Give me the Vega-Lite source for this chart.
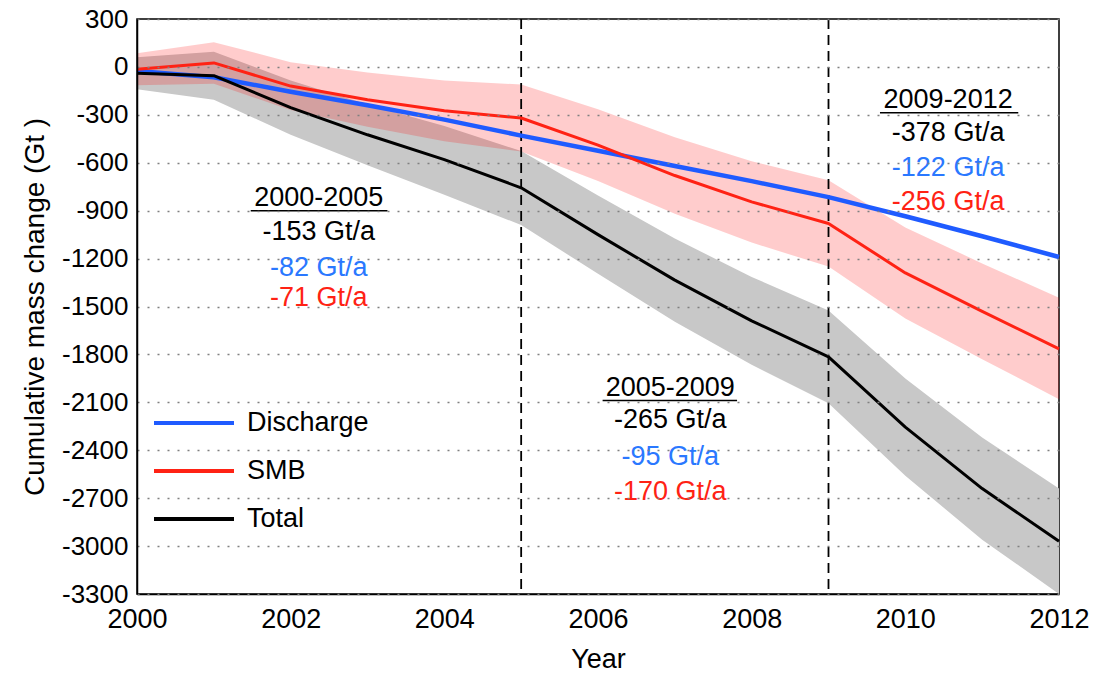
{
  "$schema": "https://vega.github.io/schema/vega-lite/v6.json",
  "width": 922,
  "height": 575,
  "autosize": {"type": "none"},
  "padding": {"left": 137, "top": 19, "right": 40, "bottom": 81},
  "background": "white",
  "config": {
    "font": "Liberation Sans",
    "view": {"stroke": "black", "strokeWidth": 1.5},
    "axis": {
      "labelFont": "Liberation Sans",
      "titleFont": "Liberation Sans",
      "labelColor": "black",
      "titleColor": "black",
      "titleFontWeight": "normal",
      "domainColor": "black",
      "tickColor": "black",
      "tickWidth": 1.2,
      "domainWidth": 1.5
    }
  },
  "datasets": {
    "series": [
      {"year": 2000, "series": "Discharge", "value": -25, "lo": -25, "hi": -25},
      {"year": 2001, "series": "Discharge", "value": -65, "lo": -65, "hi": -65},
      {"year": 2002, "series": "Discharge", "value": -155, "lo": -155, "hi": -155},
      {"year": 2003, "series": "Discharge", "value": -240, "lo": -240, "hi": -240},
      {"year": 2004, "series": "Discharge", "value": -330, "lo": -330, "hi": -330},
      {"year": 2005, "series": "Discharge", "value": -430, "lo": -430, "hi": -430},
      {"year": 2006, "series": "Discharge", "value": -525, "lo": -525, "hi": -525},
      {"year": 2007, "series": "Discharge", "value": -620, "lo": -620, "hi": -620},
      {"year": 2008, "series": "Discharge", "value": -715, "lo": -715, "hi": -715},
      {"year": 2009, "series": "Discharge", "value": -815, "lo": -815, "hi": -815},
      {"year": 2010, "series": "Discharge", "value": -935, "lo": -935, "hi": -935},
      {"year": 2011, "series": "Discharge", "value": -1060, "lo": -1060, "hi": -1060},
      {"year": 2012, "series": "Discharge", "value": -1190, "lo": -1190, "hi": -1190},
      {"year": 2000, "series": "SMB", "value": -15, "lo": -115, "hi": 85},
      {"year": 2001, "series": "SMB", "value": 25, "lo": -105, "hi": 155},
      {"year": 2002, "series": "SMB", "value": -120, "lo": -270, "hi": 30},
      {"year": 2003, "series": "SMB", "value": -205, "lo": -375, "hi": -35},
      {"year": 2004, "series": "SMB", "value": -275, "lo": -465, "hi": -85},
      {"year": 2005, "series": "SMB", "value": -320, "lo": -530, "hi": -110},
      {"year": 2006, "series": "SMB", "value": -490, "lo": -715, "hi": -265},
      {"year": 2007, "series": "SMB", "value": -680, "lo": -920, "hi": -440},
      {"year": 2008, "series": "SMB", "value": -845, "lo": -1100, "hi": -590},
      {"year": 2009, "series": "SMB", "value": -980, "lo": -1250, "hi": -710},
      {"year": 2010, "series": "SMB", "value": -1290, "lo": -1575, "hi": -1005},
      {"year": 2011, "series": "SMB", "value": -1530, "lo": -1830, "hi": -1230},
      {"year": 2012, "series": "SMB", "value": -1765, "lo": -2080, "hi": -1445},
      {"year": 2000, "series": "Total", "value": -40, "lo": -140, "hi": 60},
      {"year": 2001, "series": "Total", "value": -55, "lo": -205, "hi": 95},
      {"year": 2002, "series": "Total", "value": -255, "lo": -425, "hi": -85},
      {"year": 2003, "series": "Total", "value": -425, "lo": -615, "hi": -235},
      {"year": 2004, "series": "Total", "value": -580, "lo": -800, "hi": -370},
      {"year": 2005, "series": "Total", "value": -757, "lo": -990, "hi": -527},
      {"year": 2006, "series": "Total", "value": -1050, "lo": -1295, "hi": -805},
      {"year": 2007, "series": "Total", "value": -1335, "lo": -1595, "hi": -1075},
      {"year": 2008, "series": "Total", "value": -1590, "lo": -1865, "hi": -1315},
      {"year": 2009, "series": "Total", "value": -1815, "lo": -2105, "hi": -1525},
      {"year": 2010, "series": "Total", "value": -2255, "lo": -2560, "hi": -1950},
      {"year": 2011, "series": "Total", "value": -2640, "lo": -2960, "hi": -2320},
      {"year": 2012, "series": "Total", "value": -2970, "lo": -3300, "hi": -2640}
    ],
    "periods": [{"year": 2005}, {"year": 2009}],
    "notes": [
      {"year": 2002.365, "value": -819, "series": "Total", "label": "2000-2005"},
      {"year": 2002.365, "value": -1031, "series": "Total", "label": "-153 Gt/a"},
      {"year": 2002.365, "value": -1257, "series": "DischargeText", "label": "-82 Gt/a"},
      {"year": 2002.365, "value": -1444, "series": "SMB", "label": "-71 Gt/a"},
      {"year": 2006.94, "value": -2008, "series": "Total", "label": "2005-2009"},
      {"year": 2006.94, "value": -2208, "series": "Total", "label": "-265 Gt/a"},
      {"year": 2006.94, "value": -2440, "series": "DischargeText", "label": "-95 Gt/a"},
      {"year": 2006.94, "value": -2659, "series": "SMB", "label": "-170 Gt/a"},
      {"year": 2010.557, "value": -205, "series": "Total", "label": "2009-2012"},
      {"year": 2010.557, "value": -412, "series": "Total", "label": "-378 Gt/a"},
      {"year": 2010.557, "value": -631, "series": "DischargeText", "label": "-122 Gt/a"},
      {"year": 2010.557, "value": -844, "series": "SMB", "label": "-256 Gt/a"}
    ],
    "underlines": [
      {"start": 2001.48, "end": 2003.26, "value": -900},
      {"start": 2006.06, "end": 2007.81, "value": -2089},
      {"start": 2009.67, "end": 2011.47, "value": -287}
    ]
  },
  "layer": [
    {
      "data": {"name": "series"},
      "transform": [{"filter": "datum.series === 'Total'"}],
      "mark": {"type": "area", "color": "#c8c8c8", "opacity": 1},
      "encoding": {
        "x": {
          "field": "year", "type": "quantitative",
          "scale": {"domain": [2000, 2012], "nice": false, "zero": false},
          "axis": {
            "title": "Year", "titleFontSize": 27, "titlePadding": 14,
            "values": [2000, 2002, 2004, 2006, 2008, 2010, 2012],
            "format": "d", "labelFontSize": 27, "grid": false,
            "ticks": false, "labelPadding": 12, "labelFlush": false, "labelOverlap": false
          }
        },
        "y": {
          "field": "lo", "type": "quantitative",
          "scale": {"domain": [-3300, 300], "nice": false, "zero": false},
          "axis": {
            "title": "Cumulative mass change (Gt )", "titleFontSize": 28, "titlePadding": 12,
            "values": [-3300, -3000, -2700, -2400, -2100, -1800, -1500, -1200, -900, -600, -300, 0, 300],
            "labelExpr": "'' + datum.value",
            "labelFontSize": 26, "ticks": false, "labelPadding": 9,
            "grid": true, "gridDash": [2, 8], "gridColor": "#808080", "gridWidth": 1.6,
            "zindex": 1, "labelOverlap": false, "labelFlush": false
          }
        },
        "y2": {"field": "hi"}
      }
    },
    {
      "data": {"name": "series"},
      "transform": [{"filter": "datum.series === 'SMB'"}],
      "mark": {"type": "area", "color": "#ff0000", "opacity": 0.2},
      "encoding": {
        "x": {"field": "year", "type": "quantitative"},
        "y": {"field": "lo", "type": "quantitative"},
        "y2": {"field": "hi"}
      }
    },
    {
      "data": {"name": "periods"},
      "mark": {"type": "rule", "color": "black", "strokeDash": [10, 6], "strokeWidth": 1.8},
      "encoding": {"x": {"field": "year", "type": "quantitative"}}
    },
    {
      "data": {"name": "series"},
      "mark": {"type": "line", "strokeJoin": "round"},
      "encoding": {
        "x": {"field": "year", "type": "quantitative"},
        "y": {"field": "value", "type": "quantitative"},
        "color": {
          "field": "series", "type": "nominal",
          "scale": {"domain": ["Discharge", "SMB", "Total", "DischargeText"], "range": ["#1f5bff", "#ff2214", "#000000", "#2a78ff"]},
          "legend": {
            "title": null, "orient": "none", "legendX": 15, "legendY": 380,
            "values": ["Discharge", "SMB", "Total"],
            "symbolType": "stroke", "symbolSize": 6400, "symbolStrokeWidth": 4,
            "labelFontSize": 27, "labelColor": "black", "labelOffset": 11,
            "rowPadding": 0, "clipHeight": 48
          }
        },
        "strokeWidth": {"condition": {"test": "datum.series === 'Discharge'", "value": 4.5}, "value": 3}
      }
    },
    {
      "data": {"name": "notes"},
      "mark": {"type": "text", "fontSize": 27, "align": "center", "baseline": "middle"},
      "encoding": {
        "x": {"field": "year", "type": "quantitative"},
        "y": {"field": "value", "type": "quantitative"},
        "text": {"field": "label"},
        "color": {"field": "series", "type": "nominal"}
      }
    },
    {
      "data": {"name": "underlines"},
      "mark": {"type": "rule", "color": "black", "strokeWidth": 1.5},
      "encoding": {
        "x": {"field": "start", "type": "quantitative"},
        "x2": {"field": "end"},
        "y": {"field": "value", "type": "quantitative"}
      }
    }
  ]
}
